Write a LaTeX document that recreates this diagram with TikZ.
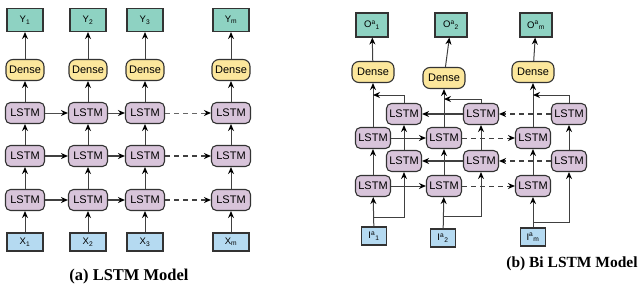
\documentclass[tikz,border=0pt]{standalone}
\usepackage{fontspec}
\setmainfont{Liberation Serif}
\newfontfamily\boxfont{Liberation Sans}
\usetikzlibrary{positioning, arrows.meta}

\definecolor{outteal}{HTML}{8ED2C2}
\definecolor{denseyel}{HTML}{FCE79C}
\definecolor{lstmpur}{HTML}{D8C4DA}
\definecolor{inblue}{HTML}{B5DAF1}
\definecolor{edgegray}{HTML}{333333}

\tikzset{
    box/.style={draw=edgegray, line width=1.1pt, inner sep=1pt,
        font=\boxfont\fontsize{9.5}{10}\selectfont},
    outbox/.style={box, fill=outteal, minimum width=36pt, minimum height=23pt},
    inbox/.style={box, fill=inblue, minimum width=36pt, minimum height=18pt},
    densebox/.style={box, fill=denseyel, rounded corners=7pt, minimum width=38pt,
        minimum height=21pt, font=\boxfont\fontsize{11}{12}\selectfont},
    lstmbox/.style={box, fill=lstmpur, rounded corners=5pt, minimum width=39pt,
        minimum height=21pt, font=\boxfont\fontsize{11}{12}\selectfont},
    link/.style={->, draw=black!75, line width=1pt},
    gap/.style={link, dash pattern=on 5pt off 4pt}
}

\begin{document}
\begin{tikzpicture}[x=1pt, y=-1pt, >={Stealth[length=7pt, width=6pt, color=black]}]
    \useasboundingbox (0,0) rectangle (640,287);

    % (a) LSTM model
    \node[outbox] (ay1) at (25, 20) {Y\textsubscript{1}};
    \node[outbox] (ay2) at (88, 20) {Y\textsubscript{2}};
    \node[outbox] (ay3) at (145, 20) {Y\textsubscript{3}};
    \node[outbox] (aym) at (231, 20) {Y\textsubscript{m}};

    \node[densebox] (ad1) at (25, 70) {Dense};
    \node[densebox] (ad2) at (88, 70) {Dense};
    \node[densebox] (ad3) at (145, 70) {Dense};
    \node[densebox] (adm) at (231, 70) {Dense};

    \node[lstmbox] (au1) at (25, 113) {LSTM};
    \node[lstmbox] (au2) at (88, 113) {LSTM};
    \node[lstmbox] (au3) at (145, 113) {LSTM};
    \node[lstmbox] (aum) at (231, 113) {LSTM};

    \node[lstmbox] (am1) at (25, 156) {LSTM};
    \node[lstmbox] (am2) at (88, 156) {LSTM};
    \node[lstmbox] (am3) at (145, 156) {LSTM};
    \node[lstmbox] (amm) at (231, 156) {LSTM};

    \node[lstmbox] (al1) at (25, 200) {LSTM};
    \node[lstmbox] (al2) at (88, 200) {LSTM};
    \node[lstmbox] (al3) at (145, 200) {LSTM};
    \node[lstmbox] (alm) at (231, 200) {LSTM};

    \node[inbox] (ax1) at (25, 242) {X\textsubscript{1}};
    \node[inbox] (ax2) at (88, 242) {X\textsubscript{2}};
    \node[inbox] (ax3) at (145, 242) {X\textsubscript{3}};
    \node[inbox] (axm) at (231, 242) {X\textsubscript{m}};

    \foreach \c in {1, 2, 3, m} {
        \draw[link] (ax\c) -- (al\c);
        \draw[link] (al\c) -- (am\c);
        \draw[link] (am\c) -- (au\c);
        \draw[link] (au\c) -- (ad\c);
        \draw[link] (ad\c) -- (ay\c);
    }

    \draw[link, black!70] (au1) -- (au2);
    \draw[link, black!70] (au2) -- (au3);
    \draw[gap, black!60] (au3) -- (aum);
    \draw[link, line width=1.6pt] (am1) -- (am2);
    \draw[link, line width=1.6pt] (am2) -- (am3);
    \draw[gap, line width=1.6pt] (am3) -- (amm);
    \draw[link, line width=1.3pt] (al1) -- (al2);
    \draw[link, line width=1.3pt] (al2) -- (al3);
    \draw[gap, line width=1.3pt] (al3) -- (alm);

    \node[font=\bfseries\fontsize{16.5}{18}\selectfont] (capa) at (129, 277) {(a) LSTM Model};

    % (b) Bi LSTM model
    \node[outbox, minimum width=32pt, minimum height=24pt] (bo1) at (372, 25) {O\textsuperscript{a}\textsubscript{1}};
    \node[outbox, minimum width=32pt, minimum height=24pt] (bo2) at (451, 25) {O\textsuperscript{a}\textsubscript{2}};
    \node[outbox, minimum width=32pt, minimum height=24pt] (bom) at (536, 25) {O\textsuperscript{a}\textsubscript{m}};

    \node[densebox, minimum width=42pt] (bd1) at (373, 72) {Dense};
    \node[densebox, minimum width=42pt] (bd2) at (444, 78) {Dense};
    \node[densebox, minimum width=42pt] (bdm) at (533, 72) {Dense};

    \node[lstmbox, minimum width=35pt] (bbu1) at (404, 114) {LSTM};
    \node[lstmbox, minimum width=35pt] (bbu2) at (481, 114) {LSTM};
    \node[lstmbox, minimum width=35pt] (bbum) at (569, 114) {LSTM};

    \node[lstmbox, minimum width=35pt] (bfu1) at (373, 138) {LSTM};
    \node[lstmbox, minimum width=35pt] (bfu2) at (444, 138) {LSTM};
    \node[lstmbox, minimum width=35pt] (bfum) at (533, 138) {LSTM};

    \node[lstmbox, minimum width=35pt] (bbl1) at (404, 161) {LSTM};
    \node[lstmbox, minimum width=35pt] (bbl2) at (481, 161) {LSTM};
    \node[lstmbox, minimum width=35pt] (bblm) at (569, 161) {LSTM};

    \node[lstmbox, minimum width=35pt] (bfl1) at (373, 186) {LSTM};
    \node[lstmbox, minimum width=35pt] (bfl2) at (444, 186) {LSTM};
    \node[lstmbox, minimum width=35pt] (bflm) at (533, 186) {LSTM};

    \node[inbox, minimum width=25pt] (bi1) at (374, 236) {I\textsuperscript{a}\textsubscript{1}};
    \node[inbox, minimum width=25pt] (bi2) at (443, 238) {I\textsuperscript{a}\textsubscript{2}};
    \node[inbox, minimum width=25pt] (bim) at (533, 237) {I\textsuperscript{a}\textsubscript{m}};

    \coordinate (s1) at (373, 217);
    \coordinate (s2) at (444, 216);
    \coordinate (sm) at (533, 222);
    \coordinate (j1) at (373, 95);
    \coordinate (j2) at (444, 99);
    \coordinate (jm) at (533, 95);

    \foreach \c in {1, 2, m} {
        \draw[link] (bi\c) -- (bfl\c);
        \draw[link] (s\c) -| (bbl\c);
        \draw[link] (bfl\c) -- (bfu\c);
        \draw[link] (bbl\c) -- (bbu\c);
        \draw[link] (bfu\c) -- (bd\c);
        \draw[link] (bbu\c.north) |- (j\c);
        \draw[link] (bd\c) -- (bo\c);
    }

    \draw[link] (bfu1) -- (bfu2);
    \draw[link] (bfl1) -- (bfl2);
    \draw[gap] (bfu2) -- (bfum);
    \draw[gap] (bfl2) -- (bflm);
    \draw[link, line width=1.3pt] (bbu2) -- (bbu1);
    \draw[link, line width=1.3pt] (bbl2) -- (bbl1);
    \draw[gap, line width=1.3pt] (bbum) -- (bbu2);
    \draw[gap, line width=1.3pt] (bblm) -- (bbl2);

    \node[font=\bfseries\fontsize{15.5}{17}\selectfont] (capb) at (572, 264) {(b) Bi LSTM Model};
\end{tikzpicture}
\end{document}
